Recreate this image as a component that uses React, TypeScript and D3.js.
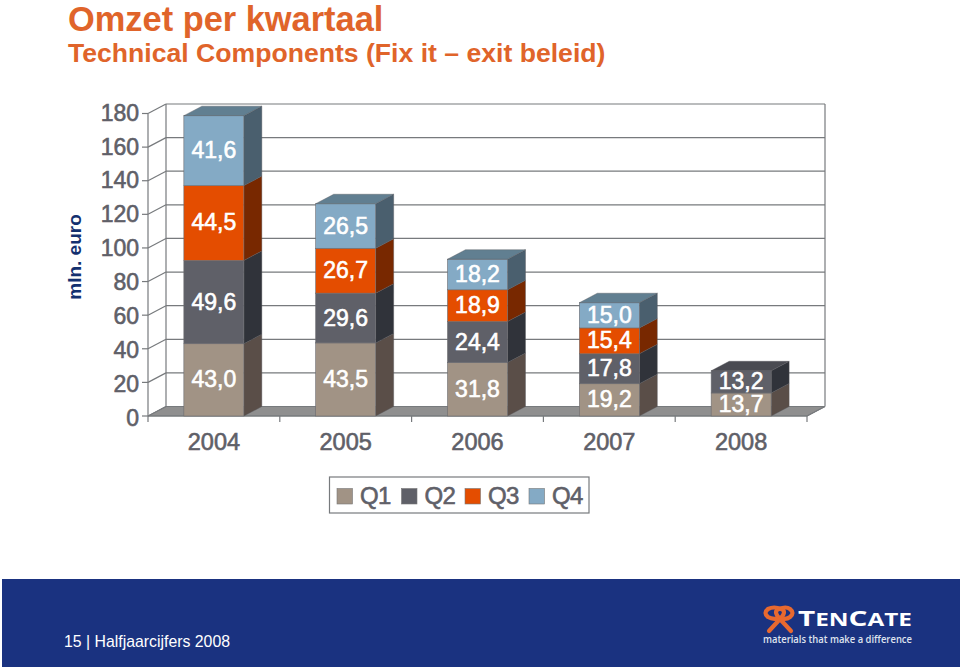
import React from "react";
import * as d3 from "d3";

const years = ["2004", "2005", "2006", "2007", "2008"];
const seriesNames = ["Q1", "Q2", "Q3", "Q4"];
const q1 = [43.0, 43.5, 31.8, 19.2, 13.7];
const q2 = [49.6, 29.6, 24.4, 17.8, 13.2];
const q3 = [44.5, 26.7, 18.9, 15.4, null];
const q4 = [41.6, 26.5, 18.2, 15.0, null];
const yTicks = [0, 20, 40, 60, 80, 100, 120, 140, 160, 180];

const front = ["#a19385", "#5f6068", "#e44d00", "#84aac5"];
const side = ["#5a4e48", "#30333a", "#782800", "#4a5f6e"];
const top = ["#6a5e56", "#4a4b52", "#94400f", "#617f91"];

const FONT = "'Liberation Sans', Arial, sans-serif";
const GREY = "#5f6068";
const LINE = "#777a7d";
const ORANGE = "#e0642a";
const W = 960, H = 669;
const dx = 18, dy = -9.5;

const y = d3.scaleLinear().domain([0, 180]).range([416, 113.5]);
const yLabel = d3.scaleLinear().domain([0, 180]).range([417.5, 112.7]);
const x = d3.scaleBand().domain(years).range([148, 807]).paddingInner(0.545).paddingOuter(0.272);
const outer = d3.scaleBand().domain(years).range([148, 807]);

const fmt = (v: number) => v.toFixed(1).replace(".", ",");
const poly = (pts: number[][]) => pts.map((p) => p.join(",")).join(" ");
const all = [q1, q2, q3, q4];

export default function App() {
  const legendX = [337, 401.5, 465, 529];
  return (
    <svg width={W} height={H} viewBox={`0 0 ${W} ${H}`} style={{ position: "absolute", left: 0, top: 0, display: "block", background: "#fff" }} fontFamily={FONT}>
      <text x={68} y={31} fontSize={34.4} fontWeight="bold" fill={ORANGE}>Omzet per kwartaal</text>
      <text x={68} y={62} fontSize={26.6} fontWeight="bold" fill={ORANGE}>Technical Components (Fix it – exit beleid)</text>
      <text transform="translate(81,257) rotate(-90)" textAnchor="middle" fontSize={19} fontWeight="bold" fill="#14306f">mln. euro</text>

      {/* floor */}
      <polygon points={poly([[148, 416], [807, 416], [807 + dx, 416 + dy], [148 + dx, 416 + dy]])} fill="#8f8f8f" stroke={LINE} strokeWidth={1} />
      {/* grid + walls */}
      {yTicks.map((t) => (
        <g key={t} stroke={LINE} strokeWidth={1.2} fill="none">
          <line x1={142} x2={148} y1={y(t)} y2={y(t)} />
          <line x1={148} x2={148 + dx} y1={y(t)} y2={y(t) + dy} />
          <line x1={148 + dx} x2={807 + dx} y1={y(t) + dy} y2={y(t) + dy} />
        </g>
      ))}
      <g stroke={LINE} strokeWidth={1.2}>
        <line x1={148} x2={148} y1={y(180)} y2={y(0)} />
        <line x1={148 + dx} x2={148 + dx} y1={y(180) + dy} y2={y(0) + dy} />
        <line x1={807 + dx} x2={807 + dx} y1={y(180) + dy} y2={y(0) + dy} />
        <line x1={807} x2={807 + dx} y1={y(0)} y2={y(0) + dy} />
        <line x1={148} x2={807} y1={y(0)} y2={y(0)} />
        {years.map((yr) => (
          <line key={yr} x1={outer(yr)!} x2={outer(yr)!} y1={416} y2={422} />
        ))}
        <line x1={807} x2={807} y1={416} y2={422} />
      </g>
      {yTicks.map((t) => (
        <text key={t} x={139} y={yLabel(t) + 8} textAnchor="end" fontSize={23} fill={GREY} stroke={GREY} strokeWidth={0.6}>{t}</text>
      ))}

      {/* bars */}
      {years.map((yr, i) => {
        const bx = x(yr)!;
        const bw = x.bandwidth();
        let cum = 0;
        const segs = all.map((s, k) => {
          const v = s[i];
          if (v == null) return null;
          const seg = { k, v, y0: y(cum), y1: y(cum + v) };
          cum += v;
          return seg;
        }).filter(Boolean) as { k: number; v: number; y0: number; y1: number }[];
        const last = segs[segs.length - 1];
        return (
          <g key={yr}>
            {segs.map((s) => (
              <g key={s.k}>
                <polygon points={poly([[bx + bw, s.y0], [bx + bw + dx, s.y0 + dy], [bx + bw + dx, s.y1 + dy], [bx + bw, s.y1]])} fill={side[s.k]} stroke="#55565a" strokeWidth={0.4} />
                <rect x={bx} y={s.y1} width={bw} height={s.y0 - s.y1} fill={front[s.k]} stroke="#6c6c70" strokeWidth={0.6} />
              </g>
            ))}
            <polygon points={poly([[bx, last.y1], [bx + dx, last.y1 + dy], [bx + bw + dx, last.y1 + dy], [bx + bw, last.y1]])} fill={top[last.k]} stroke="#55565a" strokeWidth={0.4} />
            {segs.map((s) => (
              <text key={s.k} x={bx + bw / 2} y={(s.y0 + s.y1) / 2 + 7.5} textAnchor="middle" fontSize={23} fill="#fff" stroke="#fff" strokeWidth={0.6}>{fmt(s.v)}</text>
            ))}
            <text x={outer(yr)! + outer.bandwidth() / 2} y={450} textAnchor="middle" fontSize={23.5} fill={GREY} stroke={GREY} strokeWidth={0.6}>{yr}</text>
          </g>
        );
      })}

      {/* legend */}
      <rect x={329.5} y={477} width={259.5} height={36} fill="#fff" stroke={LINE} strokeWidth={1.2} />
      {seriesNames.map((n, i) => (
        <g key={n}>
          <rect x={legendX[i]} y={488.5} width={15.5} height={15.5} fill={front[i]} stroke="#777" strokeWidth={0.6} />
          <text x={legendX[i] + 23} y={504} fontSize={24} fill={GREY} stroke={GREY} strokeWidth={0.6} letterSpacing={-0.6}>{n}</text>
        </g>
      ))}

      {/* footer */}
      <rect x={2} y={579} width={958} height={88} fill="#1a3280" />
      <text x={64} y={647} fontSize={17} fill="#fff" textLength={166} lengthAdjust="spacingAndGlyphs">15 | Halfjaarcijfers 2008</text>
      <g fill="none" stroke="#e8692f" strokeWidth={4.2} strokeLinecap="round" strokeLinejoin="round">
        <path d="M769 631 L781 618 Q787 611 781 609 Q774 606 768 609 Q763 613 768 617 Q773 620 779 618" />
        <path d="M791 631 L779 618 Q773 611 779 609 Q786 606 790 609 Q795 613 790 617 Q786 620 781 618" />
      </g>
      <text x={798} y={626} fontFamily="'Open Sans', sans-serif" fontWeight="bold" fill="#fff" fontSize={18} textLength={114} lengthAdjust="spacingAndGlyphs">
        <tspan fontSize={22}>T</tspan>EN<tspan fontSize={22}>C</tspan>ATE
      </text>
      <text x={763} y={643} fontFamily="'Open Sans', sans-serif" fontWeight="600" fill="#dfe3ee" fontSize={11.5} textLength={149} lengthAdjust="spacingAndGlyphs">materials that make a difference</text>
    </svg>
  );
}
